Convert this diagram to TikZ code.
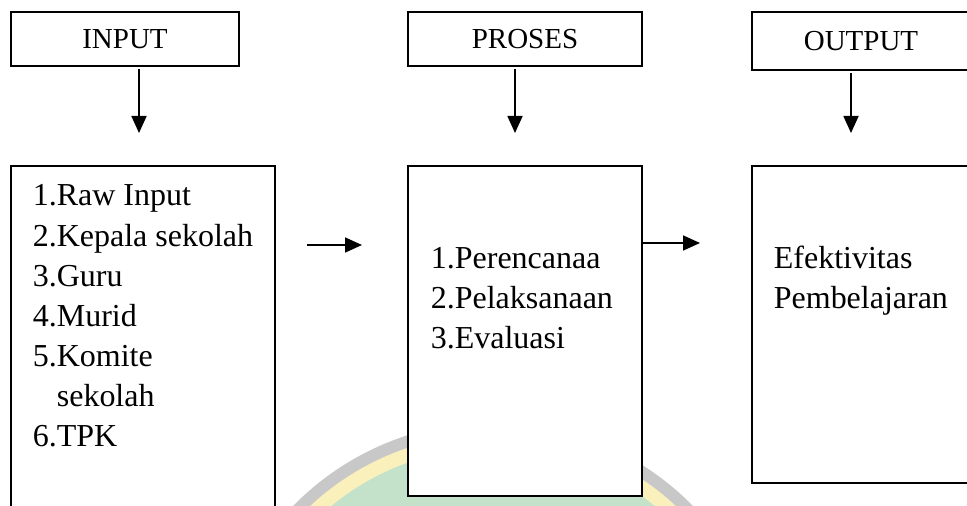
\documentclass[tikz,border=0pt]{standalone}
\usepackage{fontspec}
\setmainfont{Liberation Serif}
\usetikzlibrary{arrows.meta}
\definecolor{logogray}{RGB}{200,200,200}
\definecolor{logoyellow}{RGB}{250,240,188}
\definecolor{logogreen}{RGB}{196,226,202}
\begin{document}
\begin{tikzpicture}[x=0.2mm, y=-0.2mm, line width=1pt,
    box/.style={draw, fill=white, inner sep=0pt, outer sep=0pt},
    head/.style={box, font=\fontsize{16.5}{20}\selectfont},
    item/.style={anchor=base west, inner sep=0pt, font=\fontsize{18.2}{22}\selectfont},
    arr/.style={-{Triangle[length=3.4mm, width=3mm]}}]
  \useasboundingbox (0,0) rectangle (967,506);
  \clip (0,0) rectangle (967,506);
  % logo in the background
  \fill[logogray] (493,702) circle[radius=56mm];
  \fill[logoyellow] (493,702) circle[radius=53.6mm];
  \fill[logogreen] (493,702) circle[radius=50.8mm];
  % headers
  \node[head, minimum width=45.6mm, minimum height=10.8mm] (hin) at (125,39) {INPUT};
  \node[head, minimum width=46.8mm, minimum height=10.8mm] (hpr) at (525,39) {PROSES};
  \node[head, minimum width=43.6mm, minimum height=11.6mm] (hout) at (861,41) {OUTPUT};
  % bodies
  \node[box, minimum width=52.8mm, minimum height=72.8mm] (bin) at (143,348) {};
  \node[box, minimum width=46.8mm, minimum height=66mm] (bpr) at (525,331) {};
  \node[box, minimum width=44.6mm, minimum height=63.4mm] (bout) at (863.5,324.5) {};
  \foreach \t [count=\i] in {1.Raw Input, 2.Kepala sekolah, 3.Guru, 4.Murid,
      5.Komite, \phantom{5.}sekolah, 6.TPK}
    \node[item] (in\i) at (32,166+40*\i) {\t};
  \foreach \t [count=\i] in {1.Perencanaa, 2.Pelaksanaan, 3.Evaluasi}
    \node[item] (pr\i) at (430,228+40*\i) {\t};
  \foreach \t [count=\i] in {Efektivitas, Pembelajaran}
    \node[item] (out\i) at (773,228+40*\i) {\t};
  % arrows
  \foreach \h/\b/\d in {hin/bin/2.8mm, hpr/bpr/-2mm, hout/bout/-2mm}
    \draw[arr, shorten <=0.6mm, shorten >=6.6mm] ([xshift=\d]\h.south) -- ([xshift=\d]\h.south |- \b.north);
  \draw[arr, shorten <=6.4mm, shorten >=9.2mm] (bin.east |- 0,245) -- (bpr.west |- 0,245);
  \draw[arr, shorten >=10.4mm] (bpr.east |- 0,243) -- (bout.west |- 0,243);
\end{tikzpicture}
\end{document}
